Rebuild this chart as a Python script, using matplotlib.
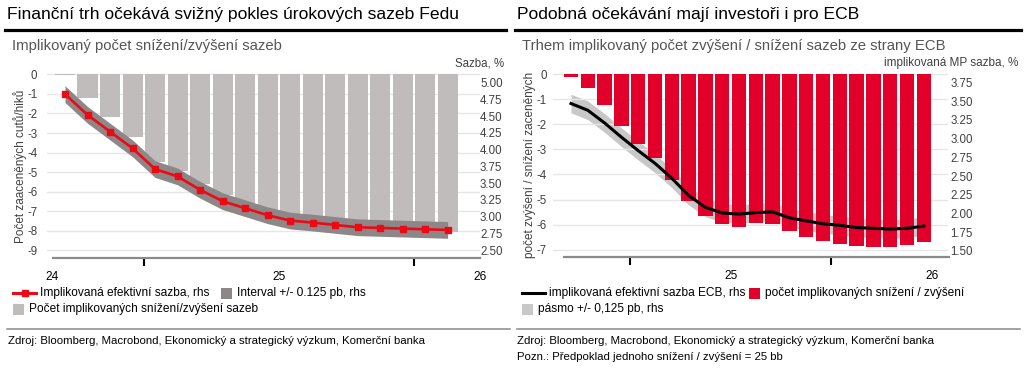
import numpy as np
import matplotlib
matplotlib.use("Agg")
import matplotlib.pyplot as plt
from matplotlib.lines import Line2D
from matplotlib.patches import Rectangle

plt.rcParams['font.family'] = ['Liberation Sans', 'DejaVu Sans']
plt.rcParams['axes.unicode_minus'] = False

# ---- data: Fed (monthly, Sep 2024 - Feb 2026) ----
fed_cuts = [-0.05, -1.22, -2.2, -3.19, -4.48, -4.96, -5.6, -6.15, -6.6, -6.95,
            -7.2, -7.35, -7.45, -7.55, -7.6, -7.65, -7.7, -8.08]
fed_rate = [4.83, 4.52, 4.27, 4.02, 3.71, 3.60, 3.40, 3.23, 3.125, 3.02,
            2.94, 2.91, 2.875, 2.84, 2.83, 2.82, 2.81, 2.80]
fed_band = 0.125

# ---- data: ECB (monthly, Sep 2024 - Jun 2026) ----
ecb_cuts = [-0.13, -0.57, -1.24, -2.07, -2.79, -3.36, -4.22, -5.05, -5.65, -5.98,
            -6.08, -5.95, -5.99, -6.24, -6.48, -6.64, -6.77, -6.85, -6.89, -6.88,
            -6.81, -6.71]
ecb_rate = [3.47, 3.38, 3.21, 3.02, 2.84, 2.67, 2.47, 2.24, 2.08, 2.005,
            1.99, 2.01, 2.02, 1.94, 1.90, 1.86, 1.84, 1.81, 1.80, 1.79,
            1.80, 1.83]
ecb_band = 0.125

year_ticks = [3.5, 15.5]

W, H = 1024, 370
GRAY_BAR = '#c0bcbc'
GRAY_BAND = '#8d8787'
RED = '#ec0a17'
ECB_RED = '#e2002a'
LIGHT = '#c8c8c8'
TXT = '#404040'
TICK_FS = 8.3


def fx(px):
    return px / W


def fy(py):
    return 1 - py / H


def rect(x0, y0, x1, y1):
    return [fx(x0), fy(y1), (x1 - x0) / W, (y1 - y0) / H]


def style_axis(ax):
    for s in ax.spines.values():
        s.set_visible(False)
    ax.tick_params(axis='y', length=0, labelsize=TICK_FS, labelcolor=TXT)


def style_x(ax, lo, hi):
    ax.spines['bottom'].set_visible(True)
    ax.spines['bottom'].set_color('#8a8a8a')
    ax.spines['bottom'].set_linewidth(1.6)
    ax.spines['bottom'].set_bounds(lo, hi)
    ax.set_xticks(year_ticks)
    ax.set_xticklabels([])
    ax.tick_params(axis='x', length=6, width=1.5, color='black', direction='out')


def year_labels(ax, pos, labels):
    for p, lab in zip(pos, labels):
        ax.annotate(lab, xy=(p, 0), xycoords=('data', 'axes fraction'),
                    xytext=(0, -14), textcoords='offset points',
                    ha='center', va='center', fontsize=8.6, color='black')


fig = plt.figure(figsize=(W / 100, H / 100), dpi=100)
fig.patch.set_facecolor('white')

# ---------------- left chart: Fed ----------------
x_fed = np.arange(len(fed_cuts))
ax1 = fig.add_axes(rect(47, 72, 480, 257.5))
ax1r = ax1.twinx()
style_axis(ax1)
style_axis(ax1r)
ax1.set_ylim(-9.37, 0.123)
ax1.set_yticks(range(-9, 1))
ax1.yaxis.grid(True, color='#e6e6e6', lw=1)
ax1.set_axisbelow(True)
ax1.bar(x_fed, fed_cuts, width=0.89, color=GRAY_BAR, zorder=2)
ax1.set_xlim(-0.8, 18.44)
ax1.tick_params(axis='y', pad=7)
style_x(ax1, -0.53, 18.44)

fr = np.array(fed_rate)
ax1r.fill_between(x_fed, fr - fed_band, fr + fed_band, color=GRAY_BAND, lw=0)
ax1r.plot(x_fed, fr, color=RED, lw=1.9, marker='s', ms=4.8, mec=RED, mfc=RED)
ax1r.set_ylim(2.388, 5.161)
ax1r.set_yticks(np.arange(2.5, 5.01, 0.25))
ax1r.set_yticklabels([f"{v:.2f}" for v in np.arange(2.5, 5.01, 0.25)])
ax1r.tick_params(axis='y', pad=0)
year_labels(ax1, [-0.58, 9.5, 18.44], ['24', '25', '26'])

# ---------------- right chart: ECB ----------------
x_ecb = np.arange(len(ecb_cuts))
axb = fig.add_axes(rect(553, 72, 948, 257))  # band, right scale
axc = axb.twinx()                              # bars, left scale
axl = axb.twinx()                              # line, right scale
for a in (axb, axc, axl):
    style_axis(a)
    a.set_xlim(-1.07, 22.44)

er = np.array(ecb_rate)
axb.fill_between(x_ecb, er - ecb_band, er + ecb_band, color=LIGHT, lw=0)
axb.set_ylim(1.416, 3.892)
axb.yaxis.tick_right()
axb.set_yticks(np.arange(1.5, 3.76, 0.25))
axb.set_yticklabels([f"{v:.2f}" for v in np.arange(1.5, 3.76, 0.25)])
axb.tick_params(axis='y', pad=1.5)
style_x(axb, -0.42, 22.5)

axc.yaxis.tick_left()
axc.set_ylim(-7.29, 0.08)
axc.set_yticks(range(-7, 1))
axc.yaxis.grid(True, color='#e6e6e6', lw=1)
axc.set_axisbelow(True)
axc.tick_params(axis='y', pad=4.5)
axc.bar(x_ecb, ecb_cuts, width=0.85, color=ECB_RED, zorder=2)

axl.plot(x_ecb, er, color='black', lw=2.2)
axl.set_ylim(1.416, 3.892)
axl.set_yticks([])
year_labels(axb, [9.5, 21.5], ['25', '26'])

# ---------------- texts ----------------
fig.text(fx(7), fy(14), 'Finanční trh očekává svižný pokles úrokových sazeb Fedu',
         fontsize=12.6, va='center', ha='left')
fig.text(fx(517), fy(14), 'Podobná očekávání mají investoři i pro ECB',
         fontsize=12.6, va='center', ha='left')
for x0, x1 in [(5, 506), (515, 1021)]:
    fig.add_artist(Line2D([fx(x0), fx(x1)], [fy(30), fy(30)], color='black', lw=2.3))
fig.text(fx(12), fy(46), 'Implikovaný počet snížení/zvýšení sazeb',
         fontsize=10.7, color='#555555', va='center', ha='left')
fig.text(fx(522), fy(46), 'Trhem implikovaný počet zvýšení / snížení sazeb ze strany ECB',
         fontsize=10.7, color='#555555', va='center', ha='left')
fig.text(fx(504), fy(63), 'Sazba, %', fontsize=8.3, color=TXT, va='center', ha='right')
fig.text(fx(1018), fy(63), 'implikovaná MP sazba, %', fontsize=8.5, color=TXT,
         va='center', ha='right')
fig.text(fx(20), fy(166), 'Počet zaaceněných cutů/hiků', rotation=90, fontsize=8.45,
         color=TXT, va='center', ha='center')
fig.text(fx(530), fy(165), 'počet zvýšení / snížení zaceněných', rotation=90,
         fontsize=8.45, color=TXT, va='center', ha='center')

renderer = fig.canvas.get_renderer()


def legend_row(x, y, items, gap_after):
    for kind, color, label in items:
        if kind == 'line':
            fig.add_artist(Line2D([fx(x), fx(x + 23)], [fy(y), fy(y)], color=color, lw=2.2))
            x += 27
        elif kind == 'redline':
            fig.add_artist(Line2D([fx(x), fx(x + 23)], [fy(y), fy(y)], color=color, lw=2.2))
            fig.add_artist(Line2D([fx(x + 11.5)], [fy(y)], color=color, marker='s', ms=4.8))
            x += 27
        else:
            fig.add_artist(Rectangle((fx(x), fy(y + 5.5)), 11 / W, 11 / H, color=color, lw=0))
            x += 16
        t = fig.text(fx(x), fy(y), label, fontsize=8.55, va='center', ha='left')
        x = t.get_window_extent(renderer=renderer).x1 + gap_after


legend_row(13, 293, [('redline', RED, 'Implikovaná efektivní sazba, rhs'),
                     ('sq', GRAY_BAND, 'Interval +/- 0.125 pb, rhs')], 12)
legend_row(13, 309, [('sq', GRAY_BAR, 'Počet implikovaných snížení/zvýšení sazeb')], 12)
legend_row(522, 293, [('line', 'black', 'implikovaná efektivní sazba ECB, rhs'),
                      ('sq', ECB_RED, 'počet implikovaných snížení / zvýšení')], 4)
legend_row(522, 309, [('sq', LIGHT, 'pásmo +/- 0,125 pb, rhs')], 4)

for x0, x1 in [(7, 510), (517, 1020)]:
    fig.add_artist(Line2D([fx(x0), fx(x1)], [fy(329), fy(329)], color='#8a8a8a', lw=1.1))
src = 'Zdroj: Bloomberg, Macrobond, Ekonomický a strategický výzkum, Komerční banka'
fig.text(fx(8), fy(341), src, fontsize=8.2, va='center', ha='left')
fig.text(fx(517), fy(341), src, fontsize=8.2, va='center', ha='left')
fig.text(fx(517), fy(357), 'Pozn.: Předpoklad jednoho snížení / zvýšení = 25 bb',
         fontsize=8.2, va='center', ha='left')

fig.savefig('out.png', dpi=100)
